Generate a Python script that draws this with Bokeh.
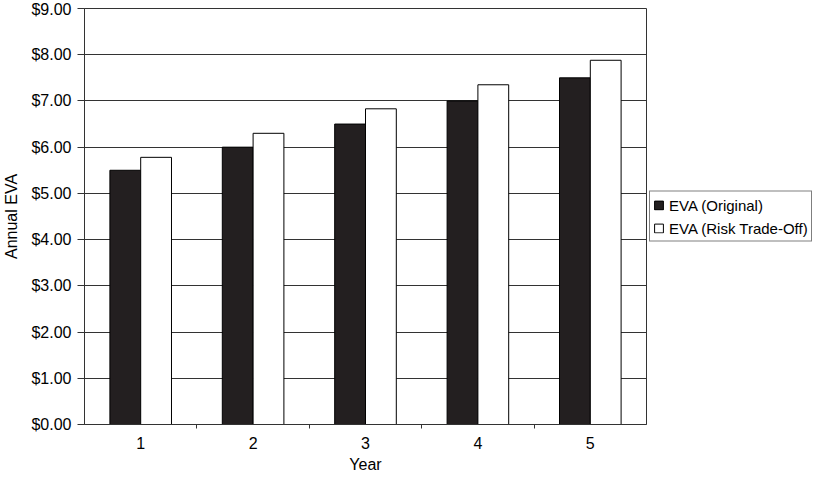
from bokeh.plotting import figure
from bokeh.models import (ColumnDataSource, FixedTicker, NumeralTickFormatter, Range1d,
                          Legend, LegendItem, CustomJSTickFormatter)
from bokeh.transform import dodge
from bokeh.embed import file_html
from bokeh.resources import INLINE

years = [1, 2, 3, 4, 5]
year_labels = ["1", "2", "3", "4", "5"]
eva_original = [5.50, 6.00, 6.50, 7.00, 7.50]
eva_risk = [5.78, 6.30, 6.83, 7.35, 7.88]
y_ticks = [0, 1, 2, 3, 4, 5, 6, 7, 8, 9]

src = ColumnDataSource(dict(year=years, orig=eva_original, risk=eva_risk))

FONT = "Liberation Sans"

p = figure(frame_width=562, frame_height=416, output_backend="svg", toolbar_location=None,
           x_range=Range1d(0.5, 5.5), y_range=Range1d(0, 9),
           min_border_left=80, min_border_right=0, min_border_top=8, min_border_bottom=44)
p.background_fill_color = "white"
p.border_fill_color = "white"
p.outline_line_color = "#333333"
p.outline_line_width = 1

r1 = p.vbar(x=dodge("year", -0.137, range=p.x_range), top="orig", width=0.274, source=src,
            fill_color="#231f20", line_color="black", line_width=1)
r2 = p.vbar(x=dodge("year", 0.137, range=p.x_range), top="risk", width=0.274, source=src,
            fill_color="white", line_color="black", line_width=1)

# axes
p.xaxis.ticker = FixedTicker(ticks=years, minor_ticks=[1.5, 2.5, 3.5, 4.5])
p.xaxis.formatter = CustomJSTickFormatter(args=dict(labels=year_labels),
                                          code="return labels[Math.round(tick) - 1];")
p.xaxis.major_tick_line_color = None
p.xaxis.minor_tick_line_color = "#333333"
p.xaxis.minor_tick_out = 4
p.xaxis.minor_tick_in = 0
p.xaxis.axis_line_color = "#333333"
p.xaxis.axis_label = "Year"
p.xaxis.major_label_standoff = 6
p.xaxis.axis_label_standoff = 4

p.yaxis.ticker = FixedTicker(ticks=y_ticks, minor_ticks=[])
p.yaxis.formatter = NumeralTickFormatter(format="$0.00")
p.yaxis.major_tick_out = 7
p.yaxis.major_tick_in = 0
p.yaxis.major_tick_line_color = "#333333"
p.yaxis.axis_line_color = "#333333"
p.yaxis.axis_label = "Annual EVA"
p.yaxis.major_label_standoff = 6
p.yaxis.axis_label_standoff = 8

for ax in (p.xaxis, p.yaxis):
    ax.major_label_text_font = FONT
    ax.major_label_text_font_size = "16px"
    ax.major_label_text_color = "black"
    ax.axis_label_text_font = FONT
    ax.axis_label_text_font_size = "16px"
    ax.axis_label_text_font_style = "normal"
    ax.axis_label_text_color = "black"

p.xgrid.grid_line_color = None
p.ygrid.ticker = FixedTicker(ticks=y_ticks)
p.ygrid.grid_line_color = "#333333"
p.ygrid.grid_line_width = 1

legend = Legend(items=[LegendItem(label="EVA (Original)", renderers=[r1]),
                       LegendItem(label="EVA (Risk Trade-Off)", renderers=[r2])],
                location="left")
legend.glyph_width = 11
legend.glyph_height = 11
legend.label_height = 20
legend.label_standoff = 5
legend.spacing = 3
legend.padding = 3
legend.margin = 3
legend.label_text_font = FONT
legend.label_text_font_size = "15px"
legend.label_text_color = "black"
legend.border_line_color = "black"
legend.border_line_width = 1
legend.background_fill_color = "white"
legend.background_fill_alpha = 1
p.add_layout(legend, "right")

open("out.html", "w").write(file_html(p, INLINE))
